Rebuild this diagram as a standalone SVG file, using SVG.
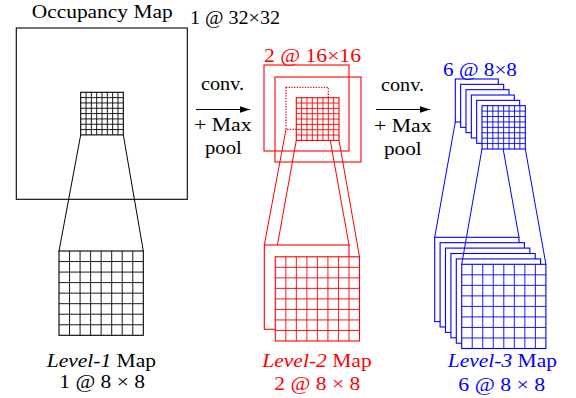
<svg xmlns="http://www.w3.org/2000/svg" width="576" height="398" viewBox="0 0 576 398" font-family="'Liberation Serif', 'DejaVu Serif', serif">
<style>
text{font-family:'Liberation Serif','DejaVu Serif',serif;font-size:18.5px}
.k{stroke:#000}.r{stroke:#f00}.b{stroke:#00f}
.o{fill:none;stroke-width:1.1}
.w{fill:#fff;stroke-width:1.1}
.g{fill:none;stroke-width:0.9}
.ln{fill:none;stroke-width:1}
.tr{fill:#f00}.tb{fill:#00f}.tk{fill:#000}
</style>
<defs>
<marker id="ah" markerWidth="10" markerHeight="8" refX="10" refY="4" orient="auto" markerUnits="userSpaceOnUse">
<path d="M0,0.7 L10,4 L0,7.3 Z" fill="#000"/>
</marker>
</defs>
<rect width="576" height="398" fill="#fff"/>

<g id="occupancy">
<rect class="k o" x="16.3" y="28" width="171" height="171.3"/>
<text class="tk" x="31.7" y="17.5" textLength="141" lengthAdjust="spacingAndGlyphs">Occupancy Map</text>
<text class="tk" x="190" y="24" textLength="90" lengthAdjust="spacingAndGlyphs">1 @ 32×32</text>
</g>

<g id="connectors">
<path class="k ln" d="M80.7,134.9 L59,251 M123.3,134.9 L143.3,251"/>
<path class="r ln" d="M286,129.3 L264.3,245 M328.3,129.3 L349,245 M296.3,140.4 L275.3,256.8 M339,140.4 L359.5,256.8"/>
<line x1="196" y1="109.5" x2="250" y2="109.5" stroke="#000" stroke-width="1.1" marker-end="url(#ah)"/>
<line x1="376" y1="109.5" x2="430" y2="109.5" stroke="#000" stroke-width="1.1" marker-end="url(#ah)"/>
</g>

<g id="op1">
<text class="tk" x="201" y="90" textLength="43" lengthAdjust="spacingAndGlyphs">conv.</text>
<text class="tk" x="194" y="131" textLength="57.7" lengthAdjust="spacingAndGlyphs">+ Max</text>
<text class="tk" x="205" y="154" textLength="36.7" lengthAdjust="spacingAndGlyphs">pool</text>
</g>
<g id="op2">
<text class="tk" x="381" y="90.5" textLength="43" lengthAdjust="spacingAndGlyphs">conv.</text>
<text class="tk" x="374" y="131.5" textLength="57.7" lengthAdjust="spacingAndGlyphs">+ Max</text>
<text class="tk" x="384" y="154.5" textLength="37.7" lengthAdjust="spacingAndGlyphs">pool</text>
</g>

<g id="patch1">
<rect class="k w" x="80.7" y="92.3" width="42.6" height="42.6"/>
<path class="k g" d="M86.03,92.3V134.9M91.35,92.3V134.9M96.68,92.3V134.9M102,92.3V134.9M107.33,92.3V134.9M112.65,92.3V134.9M117.98,92.3V134.9M80.7,97.63H123.3M80.7,102.95H123.3M80.7,108.28H123.3M80.7,113.6H123.3M80.7,118.93H123.3M80.7,124.25H123.3M80.7,129.58H123.3"/>
</g>

<g id="level1">
<rect class="k w" x="59" y="251" width="84.3" height="84.3"/>
<path class="k g" d="M69.54,251V335.3M80.08,251V335.3M90.61,251V335.3M101.15,251V335.3M111.69,251V335.3M122.23,251V335.3M132.76,251V335.3M59,261.54H143.3M59,272.08H143.3M59,282.61H143.3M59,293.15H143.3M59,303.69H143.3M59,314.23H143.3M59,324.76H143.3"/>
<text class="tk" x="46.7" y="366.5" textLength="109.3" lengthAdjust="spacingAndGlyphs"><tspan font-style="italic">Level-1</tspan> Map</text>
<text class="tk" x="59.3" y="388.3" textLength="85.7" lengthAdjust="spacingAndGlyphs">1 @ 8 × 8</text>
</g>

<g id="conv1">
<rect class="r o" x="264" y="65" width="85" height="86"/>
<rect class="r o" x="275" y="77" width="86" height="85"/>
<rect x="286" y="87.3" width="42.3" height="42" fill="none" stroke="#f00" stroke-width="1.3" stroke-dasharray="1.3 1.4"/>
<rect class="r w" x="296.3" y="97.7" width="42.7" height="42.7"/>
<path class="r g" d="M301.64,97.7V140.4M306.98,97.7V140.4M312.31,97.7V140.4M317.65,97.7V140.4M322.99,97.7V140.4M328.33,97.7V140.4M333.66,97.7V140.4M296.3,103.04H339M296.3,108.38H339M296.3,113.71H339M296.3,119.05H339M296.3,124.39H339M296.3,129.73H339M296.3,135.06H339"/>
<text class="tr" x="264" y="61.7" textLength="97" lengthAdjust="spacingAndGlyphs">2 @ 16×16</text>
</g>

<g id="level2">
<rect class="r w" x="264.3" y="245" width="84.7" height="84.3"/>
<rect class="r w" x="275.3" y="256.8" width="84.2" height="84.2"/>
<path class="r g" d="M285.83,256.8V341M296.35,256.8V341M306.88,256.8V341M317.4,256.8V341M327.93,256.8V341M338.45,256.8V341M348.98,256.8V341M275.3,267.33H359.5M275.3,277.85H359.5M275.3,288.38H359.5M275.3,298.9H359.5M275.3,309.43H359.5M275.3,319.95H359.5M275.3,330.48H359.5"/>
<text class="tr" x="262.3" y="366.5" textLength="109.4" lengthAdjust="spacingAndGlyphs"><tspan font-style="italic">Level-2</tspan> Map</text>
<text class="tr" x="274.3" y="390" textLength="86" lengthAdjust="spacingAndGlyphs">2 @ 8 × 8</text>
</g>

<g id="level3-back">
<rect class="b w" x="434.7" y="237.3" width="84.3" height="84.3"/>
<rect class="b w" x="440.1" y="242.7" width="84.3" height="84.3"/>
<rect class="b w" x="445.5" y="248.1" width="84.3" height="84.3"/>
<rect class="b w" x="450.9" y="253.5" width="84.3" height="84.3"/>
<rect class="b w" x="456.3" y="258.9" width="84.3" height="84.3"/>
</g>

<g id="connectors-blue">
<path class="b ln" d="M455.3,122 L434.7,237.3 M498.3,122 L519,237.3 M482,149 L461.7,264.3 M525.3,149 L545.9,264.3"/>
</g>

<g id="conv2">
<rect class="b w" x="455.3" y="79" width="43" height="43"/>
<rect class="b w" x="460.64" y="84.34" width="43" height="43"/>
<rect class="b w" x="465.98" y="89.68" width="43" height="43"/>
<rect class="b w" x="471.32" y="95.02" width="43" height="43"/>
<rect class="b w" x="476.66" y="100.36" width="43" height="43"/>
<rect class="b w" x="482" y="105.7" width="43.3" height="43.3"/>
<path class="b g" d="M487.41,105.7V149M492.83,105.7V149M498.24,105.7V149M503.65,105.7V149M509.06,105.7V149M514.48,105.7V149M519.89,105.7V149M482,111.11H525.3M482,116.53H525.3M482,121.94H525.3M482,127.35H525.3M482,132.76H525.3M482,138.18H525.3M482,143.59H525.3"/>
<text class="tb" x="443" y="75.7" textLength="74" lengthAdjust="spacingAndGlyphs">6 @ 8×8</text>
</g>

<g id="level3">
<rect class="b w" x="461.7" y="264.3" width="84.2" height="84.2"/>
<path class="b g" d="M472.23,264.3V348.5M482.75,264.3V348.5M493.28,264.3V348.5M503.8,264.3V348.5M514.33,264.3V348.5M524.85,264.3V348.5M535.38,264.3V348.5M461.7,274.83H545.9M461.7,285.35H545.9M461.7,295.88H545.9M461.7,306.4H545.9M461.7,316.93H545.9M461.7,327.45H545.9M461.7,337.98H545.9"/>
<text class="tb" x="447.7" y="366.7" textLength="109.3" lengthAdjust="spacingAndGlyphs"><tspan font-style="italic">Level-3</tspan> Map</text>
<text class="tb" x="458.3" y="390.5" textLength="87" lengthAdjust="spacingAndGlyphs">6 @ 8 × 8</text>
</g>
</svg>
